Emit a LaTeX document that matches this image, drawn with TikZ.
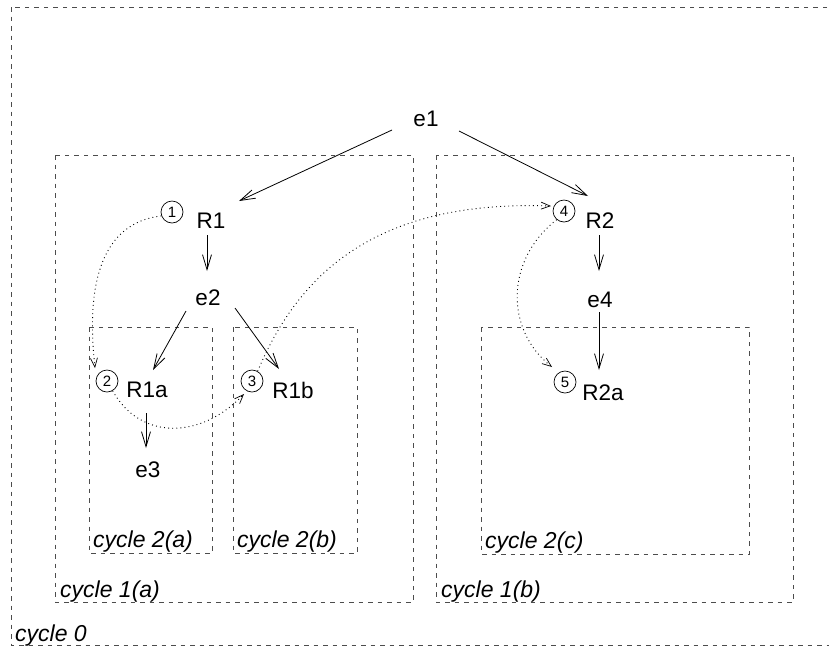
\documentclass[tikz,border=0pt]{standalone}
\usepackage{fontspec}
\setmainfont{Liberation Sans}
\usetikzlibrary{arrows.meta}
\begin{document}
\begin{tikzpicture}[x=1pt,y=-1pt,
  font=\fontsize{22.5}{26}\selectfont,
  cyclebox/.style={draw=black!70, line width=0.8pt, dash pattern=on 4.5pt off 5pt},
  cyclelabel/.style={anchor=base west, inner sep=0pt, font=\fontsize{23}{27}\selectfont\itshape},
  lbl/.style={inner sep=1pt},
  num/.style={circle, draw, line width=0.7pt, minimum size=22pt, inner sep=0pt,
    font=\fontsize{15}{17}\selectfont},
  flow/.style={line width=0.8pt, -{Straight Barb[length=15pt,width=9pt,line width=0.8pt]}},
  trace/.style={line width=0.9pt, dash pattern=on 0.9pt off 3.2pt,
    -{Straight Barb[length=9pt,width=7pt,line width=0.7pt,sep=0pt]}}]
\clip (0,0) rectangle (829,649);

% nested cycle regions
\draw[cyclebox] (11,7) rectangle (845,645);
\draw[cyclebox] (55,155) rectangle (413,602);
\draw[cyclebox] (436,155) rectangle (793,602);
\draw[cyclebox] (89,327) rectangle (212,553);
\draw[cyclebox] (233,327) rectangle (357,553);
\draw[cyclebox] (481,327) rectangle (749,554);

\node[cyclelabel] (c0)  at (15,641)  {cycle 0};
\node[cyclelabel] (c1a) at (60,597)  {cycle 1(a)};
\node[cyclelabel] (c1b) at (441,597) {cycle 1(b)};
\node[cyclelabel] (c2a) at (93,547)  {cycle 2(a)};
\node[cyclelabel] (c2b) at (237,547) {cycle 2(b)};
\node[cyclelabel] (c2c) at (485,548) {cycle 2(c)};

% events and reactions
\node[lbl] (e1)  at (426,119) {e1};
\node[lbl] (R1)  at (211,221) {R1};
\node[lbl] (e2)  at (208,298) {e2};
\node[lbl] (R1a) at (147,390) {R1a};
\node[lbl] (R1b) at (293,390) {R1b};
\node[lbl] (e3)  at (148,470) {e3};
\node[lbl] (R2)  at (600,221) {R2};
\node[lbl] (e4)  at (600,300) {e4};
\node[lbl] (R2a) at (603,393) {R2a};

% numbered visit markers
\node[num] (n1) at (172,212) {1};
\node[num] (n2) at (107,381) {2};
\node[num] (n3) at (252,381) {3};
\node[num] (n4) at (564,211) {4};
\node[num] (n5) at (565,382) {5};

% causal arrows
\draw[flow] ([shift={(-34,11)}]e1.center) -- ([shift={(28,-20)}]R1.center);
\draw[flow] ([shift={(33,12)}]e1.center) -- ([shift={(-12,-25)}]R2.center);
\draw[flow] ([shift={(-4,14)}]R1.center) -- ([shift={(-1,-27)}]e2.center);
\draw[flow] ([shift={(-22,13)}]e2.center) -- ([shift={(6,-20)}]R1a.center);
\draw[flow] ([shift={(27,10)}]e2.center) -- ([shift={(-14,-21)}]R1b.center);
\draw[flow] ([shift={(-1,23)}]R1a.center) -- ([shift={(-2,-22)}]e3.center);
\draw[flow] ([shift={(-1,14)}]R2.center) -- ([shift={(-1,-29)}]e4.center);
\draw[flow] ([shift={(-1,12)}]e4.center) -- ([shift={(-4,-23)}]R2a.center);

% traversal order
\draw[trace] (n1.200) .. controls (85,225) and (90,320) .. ([shift={(-12,-13)}]n2.center);
\draw[trace] (n2.300) .. controls (140,440) and (200,440) .. ([shift={(-8,13)}]n3.center);
\draw[trace] (n3.60) .. controls (300,270) and (380,200) .. ([shift={(-13,-5)}]n4.center);
\draw[trace] (n4.230) .. controls (505,260) and (505,330) .. ([shift={(-13,-15)}]n5.center);
\end{tikzpicture}
\end{document}
